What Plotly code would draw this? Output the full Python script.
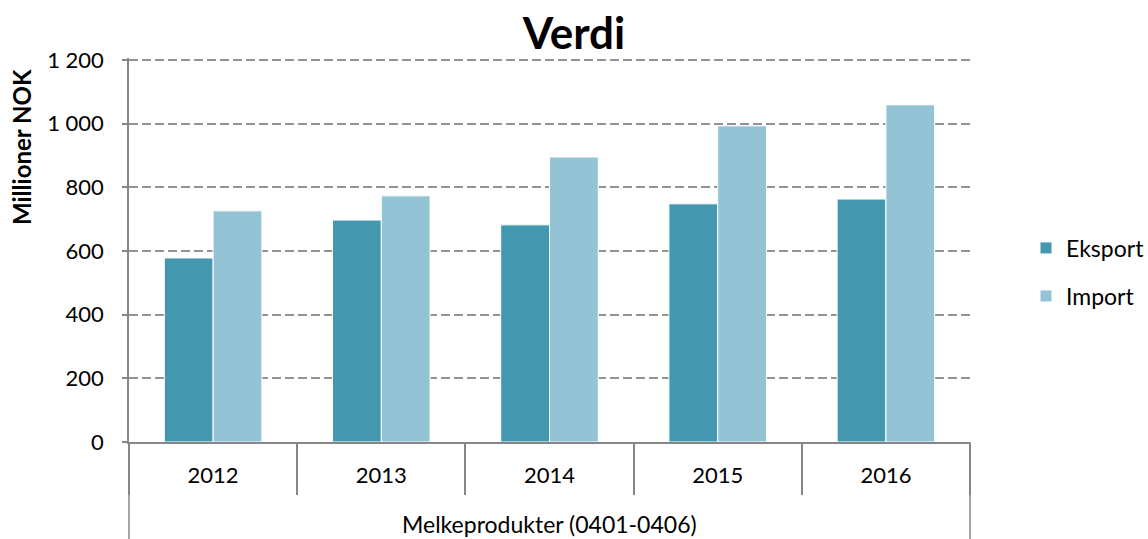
import plotly.graph_objects as go

group_label = "Melkeprodukter (0401-0406)"
years = ["2012", "2013", "2014", "2015", "2016"]
eksport = [578, 697, 682, 748, 763]
importv = [726, 773, 895, 993, 1059]
tickvals_y = [0, 200, 400, 600, 800, 1000, 1200]

font_family = "Lato, 'Open Sans', sans-serif"
axis_gray = "#868686"

# layout geometry (pixels)
W, H = 1148, 539
L, R, T, B = 129, 178, 58, 97
plot_h = H - T - B

fig = go.Figure()
fig.add_trace(go.Bar(name="Eksport", x=years, y=eksport, legend="legend",
                     marker=dict(color="#4398B0", line=dict(color="white", width=1))))
fig.add_trace(go.Bar(name="Import", x=years, y=importv, legend="legend2",
                     marker=dict(color="#93C3D5", line=dict(color="white", width=1))))

legend_common = dict(xref="container", yref="container", xanchor="left", yanchor="middle",
                     font=dict(size=23, family=font_family, color="black"),
                     bgcolor="rgba(0,0,0,0)", itemwidth=30)

fig.update_layout(
    width=W, height=H,
    margin=dict(l=L, r=R, t=T, b=B, autoexpand=False),
    paper_bgcolor="white", plot_bgcolor="white",
    separators=", ",
    barmode="group", bargap=0.42, bargroupgap=0,
    font=dict(family=font_family, size=22, color="black"),
    title=dict(text="<b>Verdi</b>", x=0.5, xref="container", xanchor="center",
               y=1 - 34 / H, yref="container", yanchor="middle",
               font=dict(size=44, family=font_family, color="black")),
    legend=dict(x=1026 / W, y=1 - 248 / H, **legend_common),
    legend2=dict(x=1026 / W, y=1 - 296 / H, **legend_common),
    showlegend=True,
)
fig.update_yaxes(
    range=[0, 1206], tickvals=tickvals_y, tickformat=",d",
    showgrid=True, gridcolor="#939393", griddash="9px,4px", gridwidth=1.5,
    showline=True, linecolor=axis_gray, linewidth=1.5,
    ticks="outside", ticklen=5, tickcolor=axis_gray, tickwidth=1.5,
    ticklabelstandoff=14,
    zeroline=False, automargin=False,
    tickfont=dict(size=22),
)
fig.update_xaxes(
    type="category",
    showline=True, linecolor=axis_gray, linewidth=1.5,
    ticks="outside", ticklen=51, tickcolor=axis_gray, tickwidth=1.5,
    tickson="boundaries", ticklabelstandoff=13,
    automargin=False,
    tickfont=dict(size=22),
)

# y axis title (placed as in reference, above centre)
fig.add_annotation(text="<b>Millioner NOK</b>", textangle=-90,
                   xref="paper", yref="paper",
                   x=(21 - L) / (W - L - R), y=(H - B - 147) / plot_h,
                   xanchor="center", yanchor="middle", showarrow=False,
                   font=dict(size=24, family=font_family, color="black"))
# outer category label
fig.add_annotation(text=group_label, xref="paper", yref="paper",
                   x=0.5, y=-82 / plot_h, xanchor="center", yanchor="middle",
                   showarrow=False, font=dict(size=23, family=font_family, color="black"))
# outer category dividers
for xp in (0, 1):
    fig.add_shape(type="line", xref="paper", yref="paper", x0=xp, x1=xp,
                  y0=0, y1=-B / plot_h, line=dict(color=axis_gray, width=1.5))

fig.write_html("out.html", config={"displayModeBar": False},
               post_script="document.body.style.margin='0';document.body.style.overflow='hidden';")
